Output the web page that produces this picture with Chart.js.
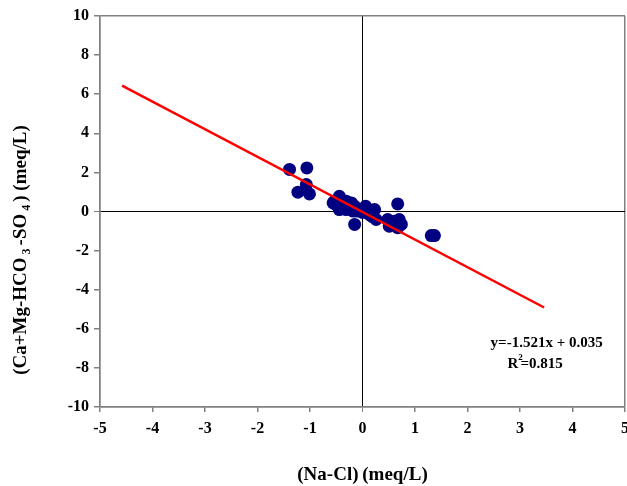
<!DOCTYPE html>
<html>
<head>
<meta charset="utf-8">
<script src="https://cdn.jsdelivr.net/npm/chart.js@4.4.1/dist/chart.umd.min.js"></script>
<style>
html,body{margin:0;padding:0;background:#fff;overflow:hidden;}
#wrap{width:627px;height:486px;overflow:hidden;}
</style>
</head>
<body>
<div id="wrap"><canvas id="c" width="627" height="486"></canvas></div>
<script>
// ---- data ----
const naMinusCl = [-1.39,-1.06,-1.07,-1.23,-1.01,-0.44,-0.53,-0.56,-0.40,-0.31,-0.21,-0.15,-0.44,-0.31,-0.18,-0.09,-0.15,0.06,0.04,0.23,0.26,0.13,0.67,0.48,0.51,0.61,0.70,0.74,0.67,1.31,1.37,-0.50,-0.36,-0.26,-0.05,0.00,0.18,0.55,-0.47,-0.25];
const caMgMinus = [2.15,2.23,1.38,0.99,0.90,0.78,0.53,0.44,0.44,0.53,0.44,0.27,0.10,0.10,0.02,0.02,-0.66,0.27,0.02,0.10,-0.41,-0.15,0.39,-0.41,-0.75,-0.50,-0.41,-0.66,-0.83,-1.23,-1.23,0.35,0.25,0.20,0.05,-0.05,-0.25,-0.60,0.60,0.35];
const fitLineX = [-4.58, 3.46];
const fitLineY = [6.44, -4.91];
const xTickRange = [-5, 5];
const yTickRange = [-10, 10];
const equationText = "y=-1.521x + 0.035";
const r2Text = "=0.815";
const xTitle = "(Na-Cl)\u2009(meq/L)";
const yTitleParts = [["(Ca+Mg-HCO",false],["3",true],["-SO",false],["4",true],[") (meq/L)",false]];

const SERIF = "'Liberation Serif','Times New Roman',serif";

const points = naMinusCl.map((x,i)=>({x:x,y:caMgMinus[i]}));
const fit = fitLineX.map((x,i)=>({x:x,y:fitLineY[i]}));

function gridColor(ctx, max){
  const v = ctx.tick ? ctx.tick.value : null;
  if (v === 0) return '#000000';
  if (v !== null && Math.abs(Math.abs(v) - max) < 1e-9) return '#808080';
  return 'rgba(0,0,0,0)';
}

const annot = {
  id:'annot',
  afterDraw(chart){
    const ctx = chart.ctx;
    const xs = chart.scales.x, ys = chart.scales.y;
    ctx.save();
    ctx.fillStyle = '#000';
    ctx.textBaseline = 'middle';
    ctx.textAlign = 'left';
    ctx.font = "bold 15px " + SERIF;
    ctx.fillText(equationText, xs.getPixelForValue(2.44), ys.getPixelForValue(-6.75));
    const rx = xs.getPixelForValue(2.76), ry = ys.getPixelForValue(-7.82);
    ctx.fillText("R", rx, ry);
    const rw = ctx.measureText("R").width;
    ctx.font = "bold 9px " + SERIF;
    ctx.fillText("2", rx + rw, ry - 7);
    const sw = ctx.measureText("2").width;
    ctx.font = "bold 15px " + SERIF;
    ctx.fillText(r2Text, rx + rw + sw*0.5, ry);

    // y-axis title with subscripts
    const big = "bold 19px " + SERIF, small = "bold 12px " + SERIF;
    let total = 0;
    const widths = yTitleParts.map(p=>{ctx.font = p[1]?small:big; const w = ctx.measureText(p[0]).width + (p[1]?6:0); total += w; return w;});
    ctx.translate(21, 250);
    ctx.rotate(-Math.PI/2);
    let cx = -total/2;
    yTitleParts.forEach((p,i)=>{
      ctx.font = p[1]?small:big;
      ctx.fillText(p[0], cx + (p[1]?3:0), p[1]?6:0);
      cx += widths[i];
    });
    ctx.restore();
  }
};

new Chart(document.getElementById('c'), {
  type:'scatter',
  data:{
    datasets:[
      {data:points, backgroundColor:'#000080', borderColor:'#000080', pointRadius:6.5, pointHoverRadius:6.5, borderWidth:0, order:2},
      {type:'line', data:fit, borderColor:'#ff0000', borderWidth:2.5, pointRadius:0, fill:false, showLine:true, order:1}
    ]
  },
  plugins:[annot],
  options:{
    responsive:false, animation:false, devicePixelRatio:1,
    layout:{autoPadding:false, padding:{top:16,right:2,left:0,bottom:0}},
    plugins:{legend:{display:false}, tooltip:{enabled:false}},
    scales:{
      x:{
        type:'linear', min:xTickRange[0], max:xTickRange[1],
        ticks:{stepSize:1, color:'#000', font:{family:SERIF, size:16, weight:'bold'}, padding:7},
        grid:{color:c=>gridColor(c,5), lineWidth:c=>(c.tick&&c.tick.value===0)?1:1.5, tickColor:'#808080', tickLength:5, drawOnChartArea:true},
        border:{color:'#808080', width:1.5},
        title:{display:true, text:xTitle, color:'#000', font:{family:SERIF, size:19, weight:'bold'}, padding:{top:22, bottom:0}},
        afterFit(s){ s.height = 79; s.paddingLeft = 0; s.paddingRight = 0; }
      },
      y:{
        type:'linear', min:yTickRange[0], max:yTickRange[1],
        ticks:{stepSize:2, color:'#000', font:{family:SERIF, size:16, weight:'bold'}, padding:5},
        grid:{color:c=>gridColor(c,10), lineWidth:c=>(c.tick&&c.tick.value===0)?1:1.5, tickColor:'#808080', tickLength:6},
        border:{color:'#808080', width:1.5},
        afterFit(s){ s.width = 100; s.paddingTop = 0; s.paddingBottom = 0; }
      }
    }
  }
});
</script>
</body>
</html>
